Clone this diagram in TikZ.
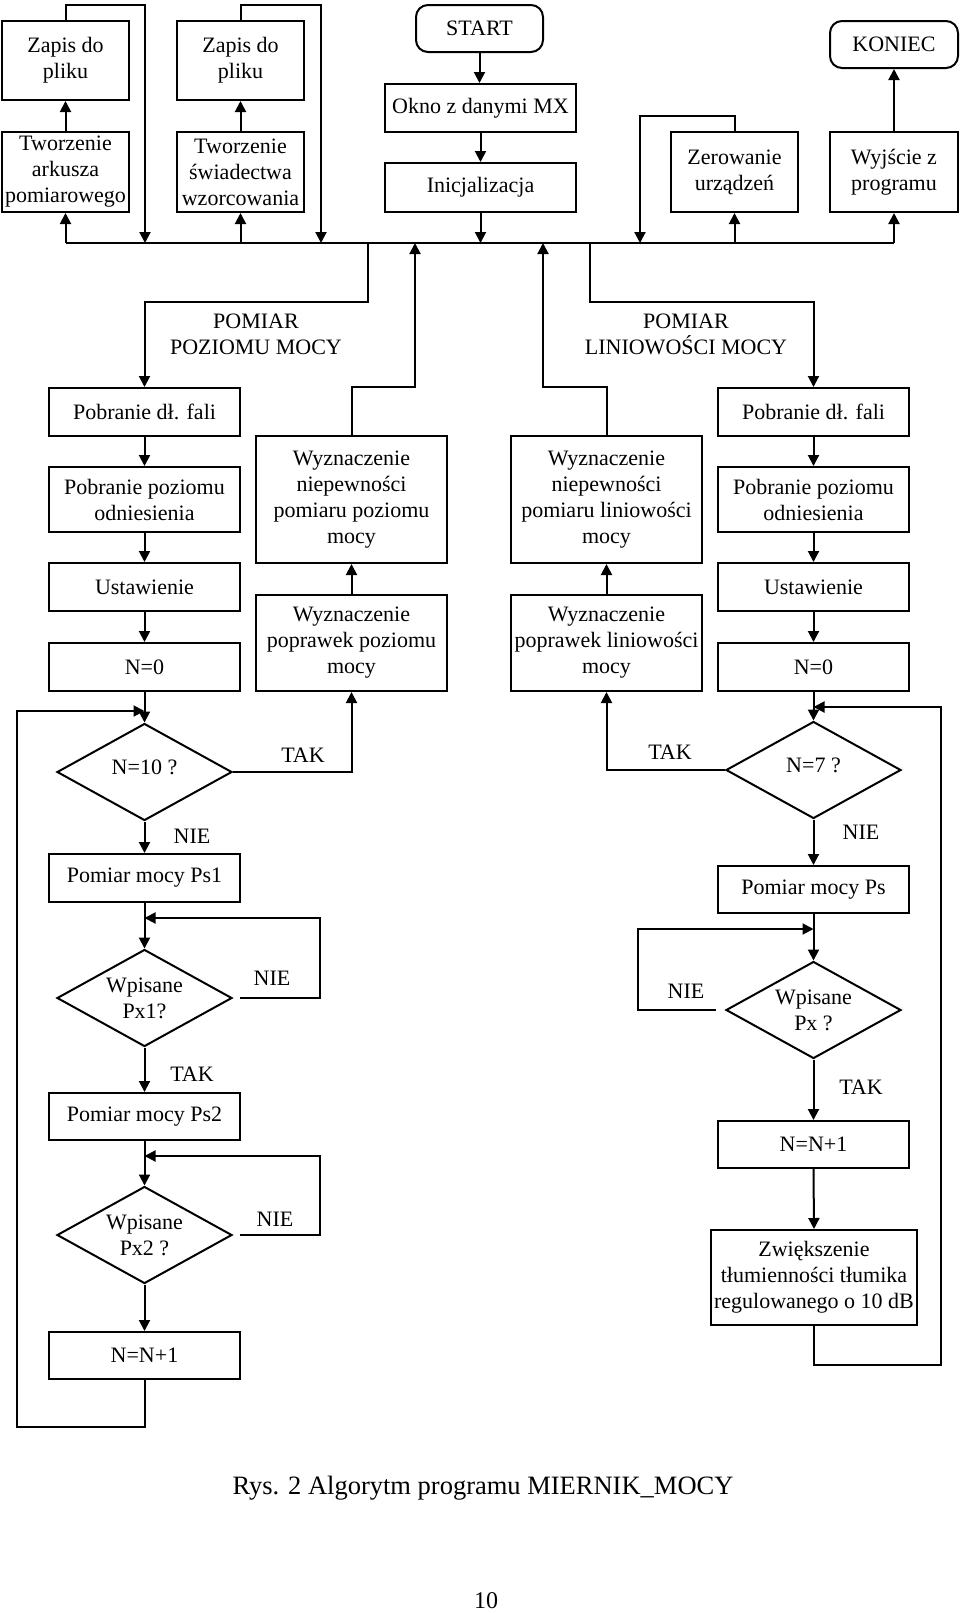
\documentclass[tikz,border=0pt]{standalone}
\usepackage{fontspec}
\setmainfont{Liberation Serif}
\usetikzlibrary{arrows.meta,shapes.geometric,calc}
\tikzset{
 every node/.style={font=\fontsize{11pt}{13pt}\selectfont},
 box/.style={draw, line width=1pt, rectangle, align=center, inner sep=0pt},
 rbox/.style={box, rounded corners=6pt},
 dia/.style={draw, line width=1pt, diamond, aspect=1.8, align=center, inner sep=0pt, minimum width=87.5pt, minimum height=48.5pt},
 ln/.style={line width=1pt},
 arr/.style={line width=1pt, -{Triangle[length=5.5pt,width=5.5pt]}},
 lbl/.style={inner sep=0pt, align=center},
}
\newcommand\bx[7][box]{\node[#1, minimum width={(#5-#3)*0.5pt}, minimum height={(#6-#4)*0.5pt}] (#2) at ({(#3+#5)/2},{(#4+#6)/2}) {#7};}
\begin{document}
\begin{tikzpicture}[x=0.5pt,y=-0.5pt]
\useasboundingbox (0,0) rectangle (960,1614);
% top row
\bx{zap1}{2}{21}{129}{100}{Zapis do\\pliku}
\bx{zap2}{177}{21}{304}{100}{Zapis do\\pliku}
\bx{tw1}{2}{132}{129}{212}{Tworzenie\\arkusza\\pomiarowego}
\bx{tw2}{177}{132}{304}{212}{Tworzenie\\świadectwa\\wzorcowania}
\bx[rbox]{start}{416}{5}{543}{52}{START}
\bx{okno}{385}{84}{576}{132}{Okno z danymi MX}
\bx{init}{385}{163}{576}{212}{Inicjalizacja}
\bx{zero}{671}{132}{798}{212}{Zerowanie\\urządzeń}
\bx{wyj}{830}{132}{958}{212}{Wyjście z\\programu}
\bx[rbox]{koniec}{830}{21}{958}{68}{KONIEC}
% middle
\bx{pob1}{49}{388}{240}{436}{Pobranie dł. fali}
\bx{odn1}{49}{467}{240}{532}{Pobranie poziomu\\odniesienia}
\bx{ust1}{49}{563}{240}{611}{Ustawienie}
\bx{n01}{49}{643}{240}{691}{N=0}
\bx{wn1}{256}{436}{447}{563}{Wyznaczenie\\niepewności\\pomiaru poziomu\\mocy}
\bx{wp1}{256}{595}{447}{691}{Wyznaczenie\\poprawek poziomu\\mocy}
\bx{pob2}{718}{388}{909}{436}{Pobranie dł. fali}
\bx{odn2}{718}{467}{909}{532}{Pobranie poziomu\\odniesienia}
\bx{ust2}{718}{563}{909}{611}{Ustawienie}
\bx{n02}{718}{643}{909}{691}{N=0}
\bx{wn2}{511}{436}{702}{563}{Wyznaczenie\\niepewności\\pomiaru liniowości\\mocy}
\bx{wp2}{511}{595}{702}{691}{Wyznaczenie\\poprawek liniowości\\mocy}
% lower left
\node[dia] (d1) at (144.5,772) {\raisebox{5pt}{N=10 ?}};
\bx{ps1}{49}{854}{240}{902}{Pomiar mocy Ps1}
\node[dia] (d2) at (144.5,998) {Wpisane\\Px1?};
\bx{ps2}{49}{1093}{240}{1140}{Pomiar mocy Ps2}
\node[dia] (d3) at (144.5,1235) {Wpisane\\Px2 ?};
\bx{n11}{49}{1332}{240}{1379}{N=N+1}
% lower right
\node[dia] (d4) at (813.5,770) {\raisebox{5pt}{N=7 ?}};
\bx{psr}{718}{866}{909}{913}{Pomiar mocy Ps}
\node[dia] (d5) at (813.5,1010) {Wpisane\\Px ?};
\bx{n12}{718}{1121}{909}{1168}{N=N+1}
\bx{zw}{711}{1230}{917}{1325}{Zwiększenie\\tłumienności tłumika\\regulowanego o 10 dB}
% labels
\node[lbl] (lp1) at (256,334) {POMIAR\\POZIOMU MOCY};
\node[lbl] (lp2) at (686,334) {POMIAR\\LINIOWOŚCI MOCY};
\node[lbl] (t1) at (303,755) {TAK};
\node[lbl] (e1) at (192,836) {NIE};
\node[lbl] (e2) at (272,978) {NIE};
\node[lbl] (t2) at (192,1074) {TAK};
\node[lbl] (e3) at (275,1219) {NIE};
\node[lbl] (t3) at (670,752) {TAK};
\node[lbl] (e4) at (861,832) {NIE};
\node[lbl] (e5) at (686,991) {NIE};
\node[lbl] (t4) at (861,1087) {TAK};
\node[lbl, font=\fontsize{13.25pt}{16pt}\selectfont] (cap) at (483,1488) {Rys. 2 Algorytm programu MIERNIK\_MOCY};
\node[lbl, font=\fontsize{12pt}{14pt}\selectfont] (pg) at (486,1601) {10};
% coordinates
\coordinate (bus) at (0,243);
\coordinate (r1) at (145,5);
\coordinate (r2) at (321,5);
\coordinate (r3) at (640,116);
\coordinate (j1) at (368,302);
\coordinate (j2) at (415,387);
\coordinate (j3) at (543,387);
\coordinate (j4) at (590,302);
\coordinate (L1) at (17,1427);
\coordinate (L2) at (17,711);
\coordinate (R1) at (941,1365);
\coordinate (R2) at (941,707);
\coordinate (a1) at (320,918);
\coordinate (a2) at (320,1156);
\coordinate (a3) at (638,929);
% top connectors
\draw[ln] (tw1.south |- bus) -- (wyj.south |- bus);
\draw[arr] (tw1.south |- bus) -- (tw1.south);
\draw[arr] (tw1.north) -- (zap1.south);
\draw[arr] (tw2.south |- bus) -- (tw2.south);
\draw[arr] (tw2.north) -- (zap2.south);
\draw[arr] (zap1.north) |- (r1) -- (r1 |- bus);
\draw[arr] (zap2.north) |- (r2) -- (r2 |- bus);
\draw[arr] (start.south) -- (start.south |- okno.north);
\draw[arr] (okno.south) -- (okno.south |- init.north);
\draw[arr] (init.south) -- (init.south |- bus);
\draw[arr] (zero.north) |- (r3) -- (r3 |- bus);
\draw[arr] (zero.south |- bus) -- (zero.south);
\draw[arr] (wyj.south |- bus) -- (wyj.south);
\draw[arr] (wyj.north) -- (koniec.south);
% branches
\draw[arr] (j1 |- bus) -- (j1) -| (pob1.north);
\draw[arr] (wn1.north) |- (j2) -- (j2 |- bus);
\draw[arr] (j4 |- bus) -- (j4) -| (pob2.north);
\draw[arr] (wn2.north) |- (j3) -- (j3 |- bus);
% columns
\draw[arr] (pob1.south) -- (odn1.north);
\draw[arr] (odn1.south) -- (ust1.north);
\draw[arr] (ust1.south) -- (n01.north);
\draw[arr] (n01.south) -- (d1.north);
\draw[arr] (d1.south) -- (ps1.north);
\draw[arr] (ps1.south) -- (d2.north);
\draw[arr] (d2.south) -- (ps2.north);
\draw[arr] (ps2.south) -- (d3.north);
\draw[arr] (d3.south) -- (n11.north);
\draw[arr] (pob2.south) -- (odn2.north);
\draw[arr] (odn2.south) -- (ust2.north);
\draw[arr] (ust2.south) -- (n02.north);
\draw[arr] (n02.south) -- (d4.north);
\draw[arr] (d4.south) -- (psr.north);
\draw[arr] (psr.south) -- (d5.north);
\draw[arr] (d5.south) -- (n12.north);
\draw[arr] (n12.south) -- (zw.north);
\draw[arr] (wp1.north) -- (wn1.south);
\draw[arr] (wp2.north) -- (wn2.south);
% decisions
\draw[arr] (d1.east) -| (wp1.south);
\draw[arr] (d4.west) -| (wp2.south);
\draw[arr] ($(d2.east)+(7,0)$) -| (a1) -- (a1 -| ps1.south);
\draw[arr] ($(d3.east)+(7,0)$) -| (a2) -- (a2 -| ps2.south);
\draw[arr] ($(d5.west)+(-9,0)$) -| (a3) -- (a3 -| psr.south);
% loops
\draw[arr] (n11.south) |- (L1) -- (L2) -- (L2 -| n01.south);
\draw[arr] (zw.south) |- (R1) -- (R2) -- (R2 -| n02.south);
\end{tikzpicture}
\end{document}
